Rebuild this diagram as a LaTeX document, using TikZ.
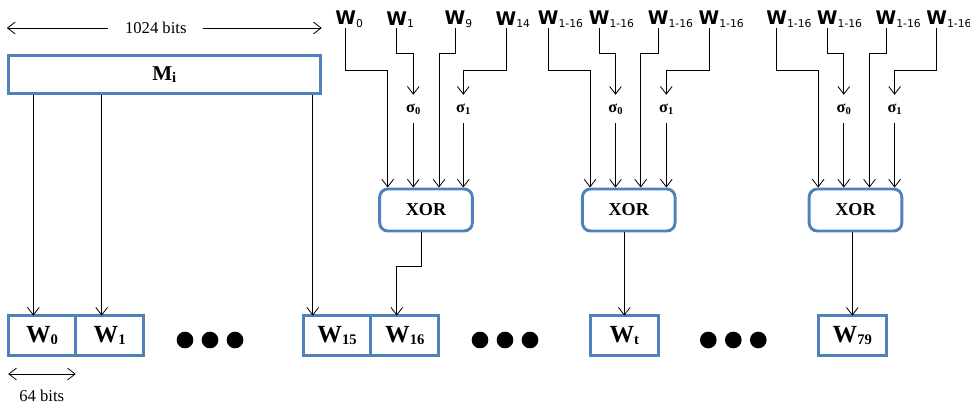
\documentclass[tikz,border=0pt]{standalone}
\usepackage{fontspec}
\setmainfont{Liberation Serif}
\newfontfamily\labelfont{DejaVu Sans}
\usepackage{tikz}
\usetikzlibrary{arrows.meta,positioning}

\definecolor{boxblue}{RGB}{79,129,189}

% W with an index hanging to the right (centre of the node = centre of W)
\newcommand{\inw}[1]{W\rlap{\raisebox{-2.3pt}{\mdseries\fontsize{9.2}{10}\selectfont #1}}}
% lowered bold index for the boxes
\newcommand{\idx}[1]{\raisebox{-2.2pt}{\fontsize{12.5}{13}\selectfont #1}}
% small index for the sigmas
\newcommand{\sidx}[1]{\raisebox{-1.5pt}{\fontsize{9}{10}\selectfont #1}}

\begin{document}
\begin{tikzpicture}[
  x=0.03cm, y=-0.03cm,                      % one unit = one pixel of the sketch
  font=\fontsize{14.2}{16}\selectfont,
  >={Straight Barb[length=6.5pt,width=10pt]},
  word/.style   = {rectangle,
                   draw=boxblue,
                   line width=2.5pt,
                   outer sep=0pt,           % neighbours share one border
                   minimum width=2.03cm,
                   minimum height=1.19cm,
                   font=\fontsize{21}{22}\selectfont\bfseries},
  block/.style  = {rectangle,
                   draw=boxblue,
                   line width=2.5pt,
                   minimum width=9.36cm,
                   minimum height=1.15cm,
                   font=\fontsize{18}{20}\selectfont\bfseries},
  gate/.style   = {rectangle,
                   rounded corners=7pt,
                   draw=boxblue,
                   line width=2.5pt,
                   minimum width=2.78cm,
                   minimum height=1.26cm,
                   font=\fontsize{15.5}{18}\selectfont\bfseries},
  inword/.style = {anchor=south, inner sep=0pt,
                   font=\fontsize{16}{18}\labelfont\bfseries},
  sigma/.style  = {inner sep=0pt, minimum height=0.84cm,
                   font=\fontsize{14}{15}\selectfont\bfseries},
  dot/.style    = {circle, fill, inner sep=0pt, minimum size=0.5cm},
  arr/.style    = {->, line width=0.7pt}
]
\useasboundingbox (0,0) rectangle (970,408);

% message block and schedule words
\node[block] (Mi) at (164.3,74.5) {M\idx{i}};
\node (kbits) at (155.8,28) [inner xsep=0.5cm] {1024 bits};

\node[word] (W0)  at (42,335.5)   {W\idx{0}};
\node[word, right=0pt of W0]  (W1)  {W\idx{1}};
\node[word] (W15) at (337.1,335.5) {W\idx{15}};
\node[word, right=0pt of W15] (W16) {W\idx{16}};
\node[word] (Wt)  at (624.3,335.5) {W\idx{t}};
\node[word] (W79) at (852.3,335.5) {W\idx{79}};
\node (sbits) at (41.7,396) {64 bits};

\node[dot] (d1) at (185,340) {};   \node[dot] (d2) at (210,340) {};   \node[dot] (d3) at (235,340) {};
\node[dot] (d4) at (480,340) {};   \node[dot] (d5) at (505,340) {};   \node[dot] (d6) at (530,340) {};
\node[dot] (d7) at (708.3,340) {}; \node[dot] (d8) at (733.3,340) {}; \node[dot] (d9) at (758.3,340) {};

% XOR gates
\node[gate] (xa) at (426,210)   {XOR};
\node[gate] (xb) at (628.7,210) {XOR};
\node[gate] (xc) at (855.5,210) {XOR};

% inputs, first gate
\node[inword] (a0)  at (345.7,28) {\inw{0}};
\node[inword] (a1)  at (396.7,28) {\inw{1}};
\node[inword] (a9)  at (455,28)   {\inw{9}};
\node[inword] (a14) at (506,28)   {\inw{14}};
\node[sigma]  (sa0) at (413.3,109) {σ\sidx{0}};
\node[sigma]  (sa1) at (463.3,109) {σ\sidx{1}};

% inputs, second gate
\node[inword] (b1) at (548.3,28) {\inw{1-16}};
\node[inword] (b2) at (599.3,28) {\inw{1-16}};
\node[inword] (b3) at (658.3,28) {\inw{1-16}};
\node[inword] (b4) at (709,28)   {\inw{1-16}};
\node[sigma]  (sb0) at (615.5,109) {σ\sidx{0}};
\node[sigma]  (sb1) at (666.3,109) {σ\sidx{1}};

% inputs, third gate
\node[inword] (c1) at (776.7,28) {\inw{1-16}};
\node[inword] (c2) at (827.3,28) {\inw{1-16}};
\node[inword] (c3) at (886,28)   {\inw{1-16}};
\node[inword] (c4) at (936.7,28) {\inw{1-16}};
\node[sigma]  (sc0) at (843.8,109) {σ\sidx{0}};
\node[sigma]  (sc1) at (894.6,109) {σ\sidx{1}};

% widths
\draw[arr] (kbits.west) -- (kbits.west -| Mi.west);
\draw[arr] (kbits.east) -- (kbits.east -| Mi.east);
\draw[<->, line width=0.7pt] ([yshift=-0.56cm]W0.south west) -- ([yshift=-0.56cm]W0.south east);

% words taken straight from the block
\coordinate (p0)  at ([xshift=-0.26cm]W0.north);
\coordinate (p1)  at ([xshift=-0.24cm]W1.north);
\coordinate (p15) at ([xshift=-0.73cm]W15.north);
\draw[arr] (Mi.south -| p0)  -- (p0);
\draw[arr] (Mi.south -| p1)  -- (p1);
\draw[arr] (Mi.south -| p15) -- (p15);

% first gate
\draw[arr] (a0.south)  -- ++(0,42.7) -| ([xshift=-1.15cm]xa.north);
\draw[arr] (a1.south)  -- ++(0,25.3) -| (sa0.north);
\draw[arr] (a9.south)  -- ++(0,25.3) -| ([xshift=0.39cm]xa.north);
\draw[arr] (a14.south) -- ++(0,42.7) -| (sa1.north);
\draw[arr] (sa0.south) -- (sa0.south |- xa.north);
\draw[arr] (sa1.south) -- (sa1.south |- xa.north);
\draw[arr] ([xshift=-0.13cm]xa.south) -- ++(0,34) -| ([xshift=-0.24cm]W16.north);

% second gate
\draw[arr] (b1.south)  -- ++(0,42.7) -| ([xshift=-1.16cm]xb.north);
\draw[arr] (b2.south)  -- ++(0,25.3) -| (sb0.north);
\draw[arr] (b3.south)  -- ++(0,25.3) -| ([xshift=0.36cm]xb.north);
\draw[arr] (b4.south)  -- ++(0,42.7) -| (sb1.north);
\draw[arr] (sb0.south) -- (sb0.south |- xb.north);
\draw[arr] (sb1.south) -- (sb1.south |- xb.north);
\draw[arr] (xb.south -| Wt.north) -- (Wt.north);

% third gate
\draw[arr] (c1.south)  -- ++(0,42.7) -| ([xshift=-1.12cm]xc.north);
\draw[arr] (c2.south)  -- ++(0,25.3) -| (sc0.north);
\draw[arr] (c3.south)  -- ++(0,25.3) -| ([xshift=0.42cm]xc.north);
\draw[arr] (c4.south)  -- ++(0,42.7) -| (sc1.north);
\draw[arr] (sc0.south) -- (sc0.south |- xc.north);
\draw[arr] (sc1.south) -- (sc1.south |- xc.north);
\draw[arr] (xc.south -| W79.north) -- (W79.north);

\end{tikzpicture}
\end{document}
